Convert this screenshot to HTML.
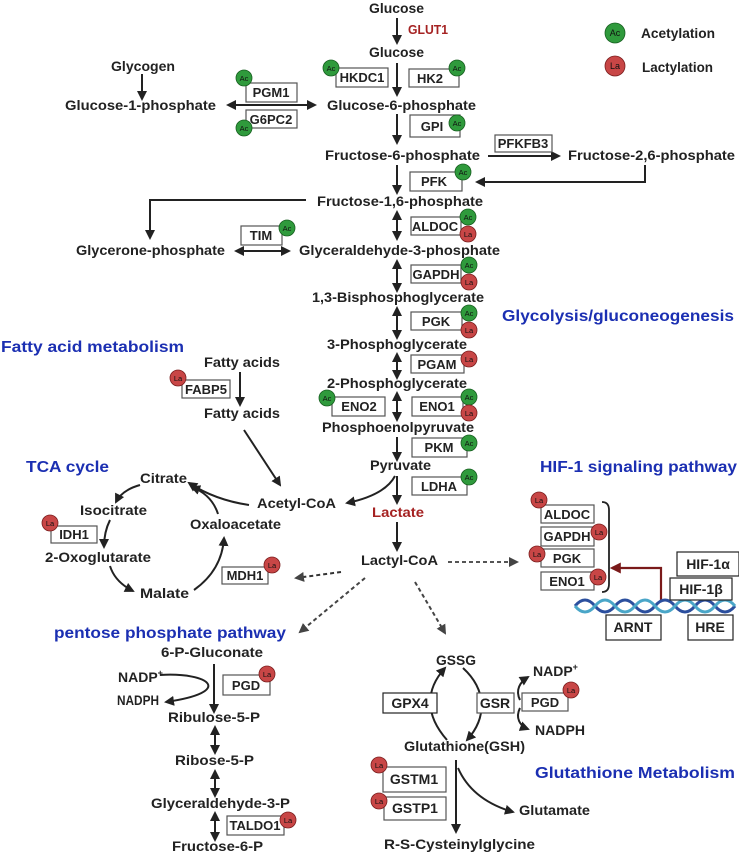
<!DOCTYPE html>
<html><head><meta charset="utf-8"><style>
html,body{margin:0;padding:0;background:#fff;}
svg{display:block;font-family:"Liberation Sans",sans-serif;font-weight:bold;}
.t{font-size:14px;fill:#222;}
.b{font-size:16px;fill:#1b2fb2;}
.r{fill:#a52222;}
.bx{fill:#fff;stroke:#555;stroke-width:1.2;}
.bt{font-size:13px;fill:#222;text-anchor:middle;}
.ln{stroke:#222;stroke-width:2;fill:none;}
.ac{fill:#2f9a3c;stroke:#175f20;stroke-width:0.8;}
.la{fill:#c84646;stroke:#7a1d1d;stroke-width:0.8;}
.ct{font-size:7.5px;fill:#111;text-anchor:middle;font-weight:normal;}
</style></head><body>
<svg width="739" height="854" viewBox="0 0 739 854" xmlns="http://www.w3.org/2000/svg">
<defs>
<marker id="a" viewBox="0 0 10 10" refX="8" refY="5" markerWidth="5" markerHeight="5" orient="auto-start-reverse"><path d="M0,0 L10,5 L0,10 z" fill="#222"/></marker>
<marker id="ar" viewBox="0 0 10 10" refX="8" refY="5" markerWidth="5" markerHeight="5" orient="auto"><path d="M0,0 L10,5 L0,10 z" fill="#7a1a1a"/></marker>
<marker id="ag" viewBox="0 0 10 10" refX="8" refY="5" markerWidth="5" markerHeight="5" orient="auto"><path d="M0,0 L10,5 L0,10 z" fill="#444"/></marker>
</defs>

<!-- legend -->
<circle cx="615" cy="33" r="10" class="ac"/><text x="615" y="36" class="ct" style="font-size:9px">Ac</text>
<text x="641" y="38" class="t" textLength="74" lengthAdjust="spacingAndGlyphs">Acetylation</text>
<circle cx="615" cy="66" r="10" class="la"/><text x="615" y="69" class="ct" style="font-size:9px">La</text>
<text x="642" y="72" class="t" textLength="71" lengthAdjust="spacingAndGlyphs">Lactylation</text>

<!-- metabolite labels -->
<g class="t">
<text x="369" y="13" textLength="55" lengthAdjust="spacingAndGlyphs">Glucose</text>
<text x="408" y="34" class="r" style="font-size:13px" textLength="40" lengthAdjust="spacingAndGlyphs">GLUT1</text>
<text x="369" y="57" textLength="55" lengthAdjust="spacingAndGlyphs">Glucose</text>
<text x="111" y="71" textLength="64" lengthAdjust="spacingAndGlyphs">Glycogen</text>
<text x="65" y="110" textLength="151" lengthAdjust="spacingAndGlyphs">Glucose-1-phosphate</text>
<text x="327" y="110" textLength="149" lengthAdjust="spacingAndGlyphs">Glucose-6-phosphate</text>
<text x="325" y="160" textLength="155" lengthAdjust="spacingAndGlyphs">Fructose-6-phosphate</text>
<text x="568" y="160" textLength="167" lengthAdjust="spacingAndGlyphs">Fructose-2,6-phosphate</text>
<text x="317" y="206" textLength="166" lengthAdjust="spacingAndGlyphs">Fructose-1,6-phosphate</text>
<text x="76" y="255" textLength="149" lengthAdjust="spacingAndGlyphs">Glycerone-phosphate</text>
<text x="299" y="255" textLength="201" lengthAdjust="spacingAndGlyphs">Glyceraldehyde-3-phosphate</text>
<text x="312" y="302" textLength="172" lengthAdjust="spacingAndGlyphs">1,3-Bisphosphoglycerate</text>
<text x="327" y="349" textLength="140" lengthAdjust="spacingAndGlyphs">3-Phosphoglycerate</text>
<text x="327" y="388" textLength="140" lengthAdjust="spacingAndGlyphs">2-Phosphoglycerate</text>
<text x="322" y="432" textLength="152" lengthAdjust="spacingAndGlyphs">Phosphoenolpyruvate</text>
<text x="370" y="470" textLength="61" lengthAdjust="spacingAndGlyphs">Pyruvate</text>
<text x="372" y="517" class="r" textLength="52" lengthAdjust="spacingAndGlyphs">Lactate</text>
<text x="361" y="565" textLength="77" lengthAdjust="spacingAndGlyphs">Lactyl-CoA</text>
<text x="257" y="508" textLength="79" lengthAdjust="spacingAndGlyphs">Acetyl-CoA</text>
<text x="204" y="367" textLength="76" lengthAdjust="spacingAndGlyphs">Fatty acids</text>
<text x="204" y="418" textLength="76" lengthAdjust="spacingAndGlyphs">Fatty acids</text>
<text x="140" y="483" textLength="47" lengthAdjust="spacingAndGlyphs">Citrate</text>
<text x="80" y="515" textLength="67" lengthAdjust="spacingAndGlyphs">Isocitrate</text>
<text x="45" y="562" textLength="106" lengthAdjust="spacingAndGlyphs">2-Oxoglutarate</text>
<text x="140" y="598" textLength="49" lengthAdjust="spacingAndGlyphs">Malate</text>
<text x="190" y="529" textLength="91" lengthAdjust="spacingAndGlyphs">Oxaloacetate</text>
<text x="161" y="657" textLength="102" lengthAdjust="spacingAndGlyphs">6-P-Gluconate</text>
<text x="118" y="682">NADP<tspan style="font-size:9px" dy="-6">+</tspan></text>
<text x="117" y="705" textLength="42" lengthAdjust="spacingAndGlyphs">NADPH</text>
<text x="168" y="722" textLength="92" lengthAdjust="spacingAndGlyphs">Ribulose-5-P</text>
<text x="175" y="765" textLength="79" lengthAdjust="spacingAndGlyphs">Ribose-5-P</text>
<text x="151" y="808" textLength="139" lengthAdjust="spacingAndGlyphs">Glyceraldehyde-3-P</text>
<text x="172" y="851" textLength="91" lengthAdjust="spacingAndGlyphs">Fructose-6-P</text>
<text x="436" y="665" textLength="40" lengthAdjust="spacingAndGlyphs">GSSG</text>
<text x="533" y="676">NADP<tspan style="font-size:9px" dy="-6">+</tspan></text>
<text x="535" y="735" textLength="50" lengthAdjust="spacingAndGlyphs">NADPH</text>
<text x="404" y="751" textLength="121" lengthAdjust="spacingAndGlyphs">Glutathione(GSH)</text>
<text x="519" y="815" textLength="71" lengthAdjust="spacingAndGlyphs">Glutamate</text>
<text x="384" y="849" textLength="151" lengthAdjust="spacingAndGlyphs">R-S-Cysteinylglycine</text>
</g>

<!-- blue headings -->
<g class="b">
<text x="502" y="321" textLength="232" lengthAdjust="spacingAndGlyphs">Glycolysis/gluconeogenesis</text>
<text x="1" y="352" textLength="183" lengthAdjust="spacingAndGlyphs">Fatty acid metabolism</text>
<text x="26" y="472" textLength="83" lengthAdjust="spacingAndGlyphs">TCA cycle</text>
<text x="540" y="472" textLength="197" lengthAdjust="spacingAndGlyphs">HIF-1 signaling pathway</text>
<text x="54" y="638" textLength="232" lengthAdjust="spacingAndGlyphs">pentose phosphate pathway</text>
<text x="535" y="778" textLength="200" lengthAdjust="spacingAndGlyphs">Glutathione Metabolism</text>
</g>

<!-- arrows -->
<g class="ln" marker-end="url(#a)">
<line x1="397" y1="18" x2="397" y2="43"/>
<line x1="397" y1="63" x2="397" y2="95"/>
<line x1="142" y1="74" x2="142" y2="99"/>
<line x1="397" y1="114" x2="397" y2="143"/>
<line x1="488" y1="156" x2="559" y2="156"/>
<polyline points="645,165 645,182 477,182"/>
<line x1="397" y1="165" x2="397" y2="193"/>
<polyline points="306,200 150,200 150,238"/>
<line x1="397" y1="437" x2="397" y2="460"/>
<line x1="397" y1="476" x2="397" y2="503"/>
<line x1="397" y1="522" x2="397" y2="550"/>
<line x1="240" y1="372" x2="240" y2="405"/>
<line x1="244" y1="430" x2="280" y2="485"/>
<path d="M395,476 Q385,495 347,503"/>
<path d="M249,505 Q215,500 189,483"/>
<path d="M218,514 Q212,495 192,487"/>
<path d="M140,485 Q122,490 116,502"/>
<path d="M110,520 Q104,532 104,547"/>
<path d="M110,566 Q115,582 133,591"/>
<path d="M194,590 Q222,570 224,538"/>
<line x1="214" y1="664" x2="214" y2="712"/>
<path d="M160,675 C210,672 235,692 166,702"/>
<path d="M447,740 C425,715 425,690 445,668"/>
<path d="M463,668 C487,690 487,718 467,740"/>
<path d="M520,700 C515,690 520,682 528,677"/>
<path d="M520,708 C515,718 520,726 528,729"/>
<line x1="456" y1="760" x2="456" y2="832"/>
<path d="M458,768 Q472,800 513,812"/>
</g>
<g class="ln" marker-start="url(#a)" marker-end="url(#a)">
<line x1="228" y1="105" x2="315" y2="105"/>
<line x1="397" y1="212" x2="397" y2="239"/>
<line x1="236" y1="251" x2="289" y2="251"/>
<line x1="397" y1="261" x2="397" y2="291"/>
<line x1="397" y1="308" x2="397" y2="338"/>
<line x1="397" y1="354" x2="397" y2="378"/>
<line x1="397" y1="393" x2="397" y2="420"/>
<line x1="215" y1="727" x2="215" y2="753"/>
<line x1="215" y1="771" x2="215" y2="796"/>
<line x1="215" y1="813" x2="215" y2="840"/>
</g>
<g stroke-width="2" fill="none" stroke-dasharray="4,3" marker-end="url(#ag)">
<line x1="448" y1="562" x2="517" y2="562" stroke="#555"/>
<line x1="341" y1="572" x2="296" y2="578" stroke="#333"/>
<line x1="365" y1="578" x2="300" y2="632" stroke="#444"/>
<line x1="415" y1="582" x2="445" y2="633" stroke="#444"/>
</g>
<polyline points="661,600 661,568 612,568" stroke="#7a1a1a" stroke-width="2.2" fill="none" marker-end="url(#ar)"/>
<path d="M602,502 Q609,502 609,510 L609,584 Q609,592 602,592" stroke="#222" stroke-width="1.8" fill="none"/>

<!-- DNA -->
<path d="M575,606 q10,-12 20,0 t20,0 t20,0 t20,0 t20,0 t20,0 t20,0 t20,0" stroke="#2b4f9e" stroke-width="3" fill="none"/>
<path d="M575,606 q10,12 20,0 t20,0 t20,0 t20,0 t20,0 t20,0 t20,0 t20,0" stroke="#4aa6c8" stroke-width="3" fill="none"/>

<!-- boxes -->
<g>
<rect x="336" y="68" width="52" height="19" class="bx"/><text x="362" y="82" class="bt">HKDC1</text>
<rect x="409" y="69" width="50" height="18" class="bx"/><text x="430" y="83" class="bt r">HK2</text>
<rect x="246" y="83" width="51" height="19" class="bx"/><text x="271" y="97" class="bt">PGM1</text>
<rect x="246" y="110" width="51" height="18" class="bx"/><text x="271" y="124" class="bt">G6PC2</text>
<rect x="410" y="115" width="50" height="22" class="bx"/><text x="432" y="131" class="bt">GPI</text>
<rect x="495" y="135" width="57" height="17" class="bx"/><text x="523" y="148" class="bt r">PFKFB3</text>
<rect x="410" y="172" width="52" height="19" class="bx"/><text x="434" y="186" class="bt">PFK</text>
<rect x="411" y="217" width="50" height="18" class="bx"/><text x="435" y="231" class="bt">ALDOC</text>
<rect x="241" y="226" width="41" height="19" class="bx"/><text x="261" y="240" class="bt">TIM</text>
<rect x="411" y="265" width="50" height="18" class="bx"/><text x="436" y="279" class="bt">GAPDH</text>
<rect x="411" y="312" width="51" height="18" class="bx"/><text x="436" y="326" class="bt">PGK</text>
<rect x="411" y="355" width="53" height="18" class="bx"/><text x="437" y="369" class="bt">PGAM</text>
<rect x="332" y="397" width="53" height="19" class="bx"/><text x="359" y="411" class="bt">ENO2</text>
<rect x="412" y="397" width="51" height="19" class="bx"/><text x="437" y="411" class="bt">ENO1</text>
<rect x="412" y="438" width="55" height="19" class="bx"/><text x="439" y="452" class="bt r">PKM</text>
<rect x="412" y="477" width="55" height="18" class="bx"/><text x="439" y="491" class="bt r">LDHA</text>
<rect x="182" y="380" width="48" height="18" class="bx"/><text x="206" y="394" class="bt">FABP5</text>
<rect x="51" y="526" width="46" height="17" class="bx"/><text x="74" y="539" class="bt">IDH1</text>
<rect x="222" y="567" width="46" height="17" class="bx"/><text x="245" y="580" class="bt">MDH1</text>
<rect x="541" y="505" width="53" height="18" class="bx"/><text x="567" y="519" class="bt">ALDOC</text>
<rect x="541" y="527" width="53" height="19" class="bx"/><text x="567" y="541" class="bt">GAPDH</text>
<rect x="541" y="549" width="53" height="18" class="bx"/><text x="567" y="563" class="bt">PGK</text>
<rect x="541" y="572" width="53" height="18" class="bx"/><text x="567" y="586" class="bt">ENO1</text>
<rect x="677" y="552" width="62" height="24" class="bx" style="stroke:#222"/><text x="708" y="569" class="bt" style="font-size:14px">HIF-1α</text>
<rect x="670" y="578" width="62" height="22" class="bx" style="stroke:#222"/><text x="701" y="594" class="bt" style="font-size:14px">HIF-1β</text>
<rect x="606" y="615" width="55" height="25" class="bx" style="stroke:#222"/><text x="633" y="632" class="bt" style="font-size:14px">ARNT</text>
<rect x="688" y="615" width="45" height="25" class="bx" style="stroke:#222"/><text x="710" y="632" class="bt" style="font-size:14px">HRE</text>
<rect x="223" y="675" width="47" height="20" class="bx"/><text x="246" y="690" class="bt">PGD</text>
<rect x="227" y="816" width="57" height="19" class="bx"/><text x="255" y="830" class="bt">TALDO1</text>
<rect x="383" y="693" width="54" height="20" class="bx" style="stroke:#222"/><text x="410" y="708" class="bt" style="font-size:14px">GPX4</text>
<rect x="477" y="693" width="37" height="20" class="bx"/><text x="495" y="708" class="bt" style="font-size:14px">GSR</text>
<rect x="522" y="693" width="46" height="18" class="bx"/><text x="545" y="707" class="bt">PGD</text>
<rect x="383" y="767" width="63" height="25" class="bx"/><text x="414" y="784" class="bt" style="font-size:14px">GSTM1</text>
<rect x="384" y="797" width="62" height="23" class="bx"/><text x="415" y="813" class="bt" style="font-size:14px">GSTP1</text>
</g>

<!-- modification circles -->
<g>
<g class="acg">
<circle cx="331" cy="68" r="8" class="ac"/><text x="331" y="71" class="ct">Ac</text>
<circle cx="457" cy="68" r="8" class="ac"/><text x="457" y="71" class="ct">Ac</text>
<circle cx="244" cy="78" r="8" class="ac"/><text x="244" y="81" class="ct">Ac</text>
<circle cx="244" cy="128" r="8" class="ac"/><text x="244" y="131" class="ct">Ac</text>
<circle cx="457" cy="123" r="8" class="ac"/><text x="457" y="126" class="ct">Ac</text>
<circle cx="463" cy="172" r="8" class="ac"/><text x="463" y="175" class="ct">Ac</text>
<circle cx="468" cy="217" r="8" class="ac"/><text x="468" y="220" class="ct">Ac</text>
<circle cx="287" cy="228" r="8" class="ac"/><text x="287" y="231" class="ct">Ac</text>
<circle cx="469" cy="265" r="8" class="ac"/><text x="469" y="268" class="ct">Ac</text>
<circle cx="469" cy="313" r="8" class="ac"/><text x="469" y="316" class="ct">Ac</text>
<circle cx="327" cy="398" r="8" class="ac"/><text x="327" y="401" class="ct">Ac</text>
<circle cx="469" cy="397" r="8" class="ac"/><text x="469" y="400" class="ct">Ac</text>
<circle cx="469" cy="443" r="8" class="ac"/><text x="469" y="446" class="ct">Ac</text>
<circle cx="469" cy="477" r="8" class="ac"/><text x="469" y="480" class="ct">Ac</text>
</g>
<circle cx="468" cy="234" r="8" class="la"/><text x="468" y="237" class="ct">La</text>
<circle cx="469" cy="282" r="8" class="la"/><text x="469" y="285" class="ct">La</text>
<circle cx="469" cy="330" r="8" class="la"/><text x="469" y="333" class="ct">La</text>
<circle cx="469" cy="359" r="8" class="la"/><text x="469" y="362" class="ct">La</text>
<circle cx="469" cy="413" r="8" class="la"/><text x="469" y="416" class="ct">La</text>
<circle cx="178" cy="378" r="8" class="la"/><text x="178" y="381" class="ct">La</text>
<circle cx="50" cy="523" r="8" class="la"/><text x="50" y="526" class="ct">La</text>
<circle cx="272" cy="565" r="8" class="la"/><text x="272" y="568" class="ct">La</text>
<circle cx="539" cy="500" r="8" class="la"/><text x="539" y="503" class="ct">La</text>
<circle cx="599" cy="532" r="8" class="la"/><text x="599" y="535" class="ct">La</text>
<circle cx="537" cy="554" r="8" class="la"/><text x="537" y="557" class="ct">La</text>
<circle cx="598" cy="577" r="8" class="la"/><text x="598" y="580" class="ct">La</text>
<circle cx="267" cy="674" r="8" class="la"/><text x="267" y="677" class="ct">La</text>
<circle cx="288" cy="820" r="8" class="la"/><text x="288" y="823" class="ct">La</text>
<circle cx="571" cy="690" r="8" class="la"/><text x="571" y="693" class="ct">La</text>
<circle cx="379" cy="765" r="8" class="la"/><text x="379" y="768" class="ct">La</text>
<circle cx="379" cy="801" r="8" class="la"/><text x="379" y="804" class="ct">La</text>
</g>
</svg>
</body></html>
